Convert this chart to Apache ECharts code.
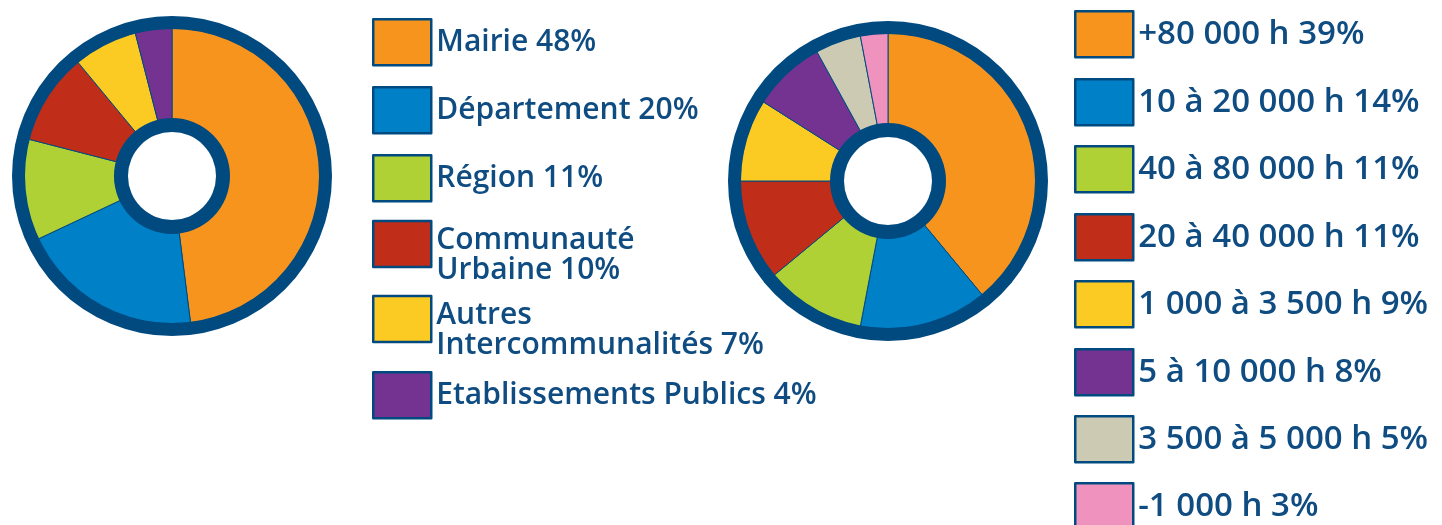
<!DOCTYPE html>
<html>
<head>
<meta charset="utf-8">
<script src="https://cdn.jsdelivr.net/npm/echarts@6/dist/echarts.min.js"></script>
<style>
  html, body { margin: 0; padding: 0; background: #fff; }
  #chart { width: 1442px; height: 525px; }
</style>
</head>
<body>
<div id="chart"></div>
<script>
/* ---------- data ---------- */
var financeurs = ['Mairie', 'Département', 'Région', 'Communauté Urbaine', 'Autres Intercommunalités', 'Etablissements Publics'];
var financeursPct = [48, 20, 11, 10, 7, 4];

var tailles = ['+80 000 h', '10 à 20 000 h', '40 à 80 000 h', '20 à 40 000 h', '1 000 à 3 500 h', '5 à 10 000 h', '3 500 à 5 000 h', '-1 000 h'];
var taillesPct = [39, 14, 11, 11, 9, 8, 5, 3];

var colorsLeft = ['#f7941e', '#0080c6', '#afd136', '#c02e1a', '#fccb23', '#743391'];
var colorsRight = ['#f7941e', '#0080c6', '#afd136', '#c02e1a', '#fccb23', '#743391', '#cccab3', '#f092be'];

// libellés sur deux lignes dans la légende
var wrapped = { 'Communauté Urbaine': true, 'Autres Intercommunalités': true };

/* ---------- style ---------- */
var NAVY = '#004a80';
var TEXT = '#0f4c81';
var FONT = '"Open Sans", sans-serif';

var chart = echarts.init(document.getElementById('chart'), null, { renderer: 'canvas' });

function pctLookup(names, vals) {
    var m = {};
    names.forEach(function (n, i) { m[n] = vals[i]; });
    return m;
}
var pct = Object.assign(pctLookup(financeurs, financeursPct), pctLookup(tailles, taillesPct));

function legendText(name) {
    var t = name + ' ' + pct[name] + '%';
    // ligne vide en tête pour descendre le bloc de texte
    if (wrapped[name]) t = '{s|}\n' + t.replace(' ', '\n');
    return t;
}

function donut(center, names, vals, colors) {
    return [{
        type: 'pie',
        center: center,
        radius: [57, 148],
        startAngle: 90,
        silent: true,
        label: { show: false },
        labelLine: { show: false },
        itemStyle: { borderColor: NAVY, borderWidth: 1 },
        data: names.map(function (n, i) {
            return { name: n, value: vals[i], itemStyle: { color: colors[i] } };
        })
    }, {
        // anneau extérieur
        type: 'pie', center: center, radius: [147, 160], silent: true,
        label: { show: false }, labelLine: { show: false },
        itemStyle: { color: NAVY }, data: [{ name: 'ring', value: 1 }]
    }, {
        // anneau intérieur
        type: 'pie', center: center, radius: [44, 58], silent: true,
        label: { show: false }, labelLine: { show: false },
        itemStyle: { color: NAVY }, data: [{ name: 'hole', value: 1 }]
    }];
}

/* une légende par entrée, placée à la main (hauteurs différentes) */
function legendItem(name, left, top, size) {
    return {
        orient: 'vertical',
        icon: 'rect',
        itemWidth: 58,
        itemHeight: 46,
        padding: 0,
        selectedMode: false,
        left: left,
        top: wrapped[name] ? top - 18 : top,
        data: [name],
        formatter: legendText,
        itemStyle: { borderColor: NAVY, borderWidth: 2.5 },
        textStyle: {
            color: TEXT, fontFamily: FONT, fontWeight: 600, fontSize: size, lineHeight: 30,
            rich: { s: { lineHeight: 22, fontSize: 10 } }
        }
    };
}

var leftTops = [18, 86, 154, 221, 296, 371];
var rightTops = [10, 78, 145, 213, 280, 348, 415, 482];

var legends = financeurs.map(function (n, i) { return legendItem(n, 372, leftTops[i], 30); })
    .concat(tailles.map(function (n, i) { return legendItem(n, 1074, rightTops[i], 33); }));

chart.setOption({
    backgroundColor: '#fff',
    animation: false,
    legend: legends,
    series: donut([172, 176], financeurs, financeursPct, colorsLeft)
        .concat(donut([888, 181], tailles, taillesPct, colorsRight))
});
</script>
</body>
</html>
